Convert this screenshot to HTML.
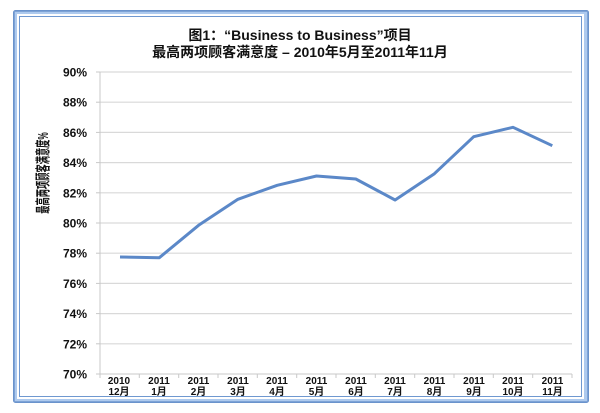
<!DOCTYPE html>
<html>
<head>
<meta charset="utf-8">
<style>
  html,body{margin:0;padding:0;background:#fff;}
  body{width:600px;height:413px;overflow:hidden;position:relative;}
  svg{position:absolute;left:0;top:0;}
  text{font-family:"Liberation Sans","Noto Sans CJK SC",sans-serif;font-weight:bold;fill:#111;}
</style>
</head>
<body>
<svg width="600" height="413" viewBox="0 0 600 413" xmlns="http://www.w3.org/2000/svg">
  <!-- frame -->
  <rect x="13.5" y="10.5" width="575" height="392" rx="2" fill="#7ea3d6" stroke="#6a93cc" stroke-width="1"/>
  <rect x="15" y="12" width="572" height="389" fill="#aecaee"/>
  <rect x="17.5" y="14.5" width="566" height="384" fill="#ffffff" stroke="#ffffff" stroke-width="1"/>
  <rect x="19" y="16" width="563" height="381" fill="#6f98d0"/>
  <rect x="20" y="17" width="561" height="379" fill="#ffffff"/>

  <!-- title -->
  <text x="300" y="40" font-size="14" text-anchor="middle">图1：“Business to Business”项目</text>
  <text x="300" y="57" font-size="14" text-anchor="middle">最高两项顾客满意度 – 2010年5月至2011年11月</text>

  <!-- gridlines -->
  <g stroke="#d9d9d9" stroke-width="1.2">
    <line x1="100" y1="72" x2="572" y2="72"/>
    <line x1="100" y1="102.2" x2="572" y2="102.2"/>
    <line x1="100" y1="132.4" x2="572" y2="132.4"/>
    <line x1="100" y1="162.6" x2="572" y2="162.6"/>
    <line x1="100" y1="192.8" x2="572" y2="192.8"/>
    <line x1="100" y1="223" x2="572" y2="223"/>
    <line x1="100" y1="253.2" x2="572" y2="253.2"/>
    <line x1="100" y1="283.4" x2="572" y2="283.4"/>
    <line x1="100" y1="313.6" x2="572" y2="313.6"/>
    <line x1="100" y1="343.8" x2="572" y2="343.8"/>
  </g>
  <!-- axes -->
  <g stroke="#c8c8c8" stroke-width="1">
    <line x1="100" y1="72" x2="100" y2="374"/>
    <line x1="96" y1="374" x2="572" y2="374"/>
    <line x1="96" y1="72" x2="100" y2="72"/>
    <line x1="96" y1="102.2" x2="100" y2="102.2"/>
    <line x1="96" y1="132.4" x2="100" y2="132.4"/>
    <line x1="96" y1="162.6" x2="100" y2="162.6"/>
    <line x1="96" y1="192.8" x2="100" y2="192.8"/>
    <line x1="96" y1="223" x2="100" y2="223"/>
    <line x1="96" y1="253.2" x2="100" y2="253.2"/>
    <line x1="96" y1="283.4" x2="100" y2="283.4"/>
    <line x1="96" y1="313.6" x2="100" y2="313.6"/>
    <line x1="96" y1="343.8" x2="100" y2="343.8"/>
    <line x1="100" y1="374" x2="100" y2="378"/>
    <line x1="139.3" y1="374" x2="139.3" y2="378"/>
    <line x1="178.7" y1="374" x2="178.7" y2="378"/>
    <line x1="218" y1="374" x2="218" y2="378"/>
    <line x1="257.3" y1="374" x2="257.3" y2="378"/>
    <line x1="296.7" y1="374" x2="296.7" y2="378"/>
    <line x1="336" y1="374" x2="336" y2="378"/>
    <line x1="375.3" y1="374" x2="375.3" y2="378"/>
    <line x1="414.7" y1="374" x2="414.7" y2="378"/>
    <line x1="454" y1="374" x2="454" y2="378"/>
    <line x1="493.3" y1="374" x2="493.3" y2="378"/>
    <line x1="532.7" y1="374" x2="532.7" y2="378"/>
    <line x1="572" y1="374" x2="572" y2="378"/>
  </g>

  <!-- y labels -->
  <g font-size="12" text-anchor="end">
    <text x="87" y="76.5">90%</text>
    <text x="87" y="106.7">88%</text>
    <text x="87" y="136.9">86%</text>
    <text x="87" y="167.1">84%</text>
    <text x="87" y="197.3">82%</text>
    <text x="87" y="227.5">80%</text>
    <text x="87" y="257.7">78%</text>
    <text x="87" y="287.9">76%</text>
    <text x="87" y="318.1">74%</text>
    <text x="87" y="348.3">72%</text>
    <text x="87" y="378.5">70%</text>
  </g>

  <!-- y title -->
  <g transform="translate(48,173) rotate(-90) scale(0.55,1)">
    <text x="0" y="0" font-size="15" text-anchor="middle">最高两项顾客满意度%</text>
  </g>

  <!-- x labels -->
  <g font-size="10" text-anchor="middle">
    <text x="119" y="384">2010</text><text x="119" y="395">12月</text>
    <text x="159" y="384">2011</text><text x="159" y="395">1月</text>
    <text x="198.5" y="384">2011</text><text x="198.5" y="395">2月</text>
    <text x="238" y="384">2011</text><text x="238" y="395">3月</text>
    <text x="277" y="384">2011</text><text x="277" y="395">4月</text>
    <text x="316.5" y="384">2011</text><text x="316.5" y="395">5月</text>
    <text x="356" y="384">2011</text><text x="356" y="395">6月</text>
    <text x="395" y="384">2011</text><text x="395" y="395">7月</text>
    <text x="434.5" y="384">2011</text><text x="434.5" y="395">8月</text>
    <text x="474" y="384">2011</text><text x="474" y="395">9月</text>
    <text x="513" y="384">2011</text><text x="513" y="395">10月</text>
    <text x="552.5" y="384">2011</text><text x="552.5" y="395">11月</text>
  </g>

  <!-- series -->
  <polyline fill="none" stroke="#5b88c8" stroke-width="3" stroke-linejoin="round" stroke-linecap="butt"
    points="120,257 159.3,257.7 198.6,225.3 237.9,199.3 277.2,185.3 316.5,176 355.8,179 395.1,200 434.4,173.7 473.7,136.7 513,127.3 552.3,145.7"/>
</svg>
</body>
</html>
